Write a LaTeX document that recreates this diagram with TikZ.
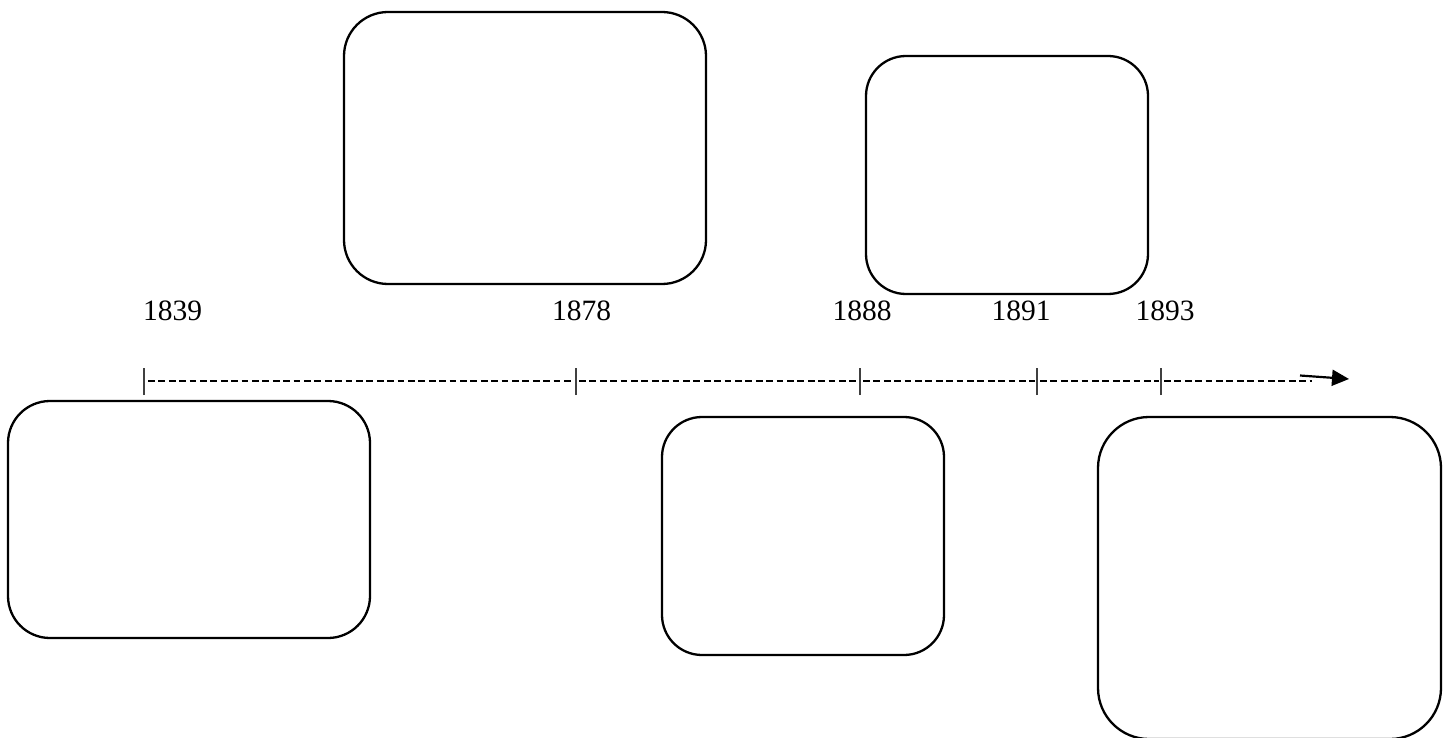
\documentclass[tikz,border=0pt]{standalone}
\usepackage{fontspec}
\setmainfont{Liberation Serif}
\usetikzlibrary{arrows.meta}
\begin{document}
\begin{tikzpicture}[x=1pt,y=-1pt,
  card/.style={draw=black,line width=2.3pt},
  yearlbl/.style={anchor=base,inner sep=0pt,font=\fontsize{29.5}{29.5}\selectfont},
  tick/.style={draw=black!75,line width=1.6pt},
  dashline/.style={draw=black,line width=2.5pt,dash pattern=on 6.8pt off 3.6pt},
  arr/.style={draw=black,line width=2.2pt,-{Triangle[length=17pt,width=16pt]}}]
\useasboundingbox (0,0) rectangle (1448,738);
% boxes
\draw[card,rounded corners=44pt] (344,12) rectangle (706,284);
\draw[card,rounded corners=40pt] (866,56) rectangle (1148,294);
\draw[card,rounded corners=42pt] (8,401) rectangle (370,638);
\draw[card,rounded corners=40pt] (662,417) rectangle (944,655);
\draw[card,rounded corners=51pt] (1098,417) rectangle (1441,739);
% year labels
\node[yearlbl] (y1839) at (172.5,320) {1839};
\node[yearlbl] (y1878) at (581.7,320) {1878};
\node[yearlbl] (y1888) at (862,320) {1888};
\node[yearlbl] (y1891) at (1021,320) {1891};
\node[yearlbl] (y1893) at (1165,320) {1893};
% ticks
\coordinate (t1) at (144,381);
\coordinate (t2) at (576,381);
\coordinate (t3) at (860,381);
\coordinate (t4) at (1037,381);
\coordinate (t5) at (1161,381);
\coordinate (tend) at (1312,381);
\foreach \t in {t1,t2,t3,t4,t5}{
  \draw[tick] ([yshift=-14pt]\t) -- ([yshift=13pt]\t);
}
\draw[dashline] ([xshift=4pt]t1) -- ([xshift=-2pt]t2);
\draw[dashline] ([xshift=3pt]t2) -- ([xshift=-2pt]t3);
\draw[dashline] ([xshift=3pt]t3) -- ([xshift=-2pt]t4);
\draw[dashline] ([xshift=3pt]t4) -- ([xshift=-2pt]t5);
\draw[dashline] ([xshift=3pt]t5) -- (tend);
% arrow
\coordinate (a0) at (1300,375.5);
\coordinate (a1) at (1349,379);
\draw[arr] (a0) -- (a1);
\end{tikzpicture}
\end{document}
